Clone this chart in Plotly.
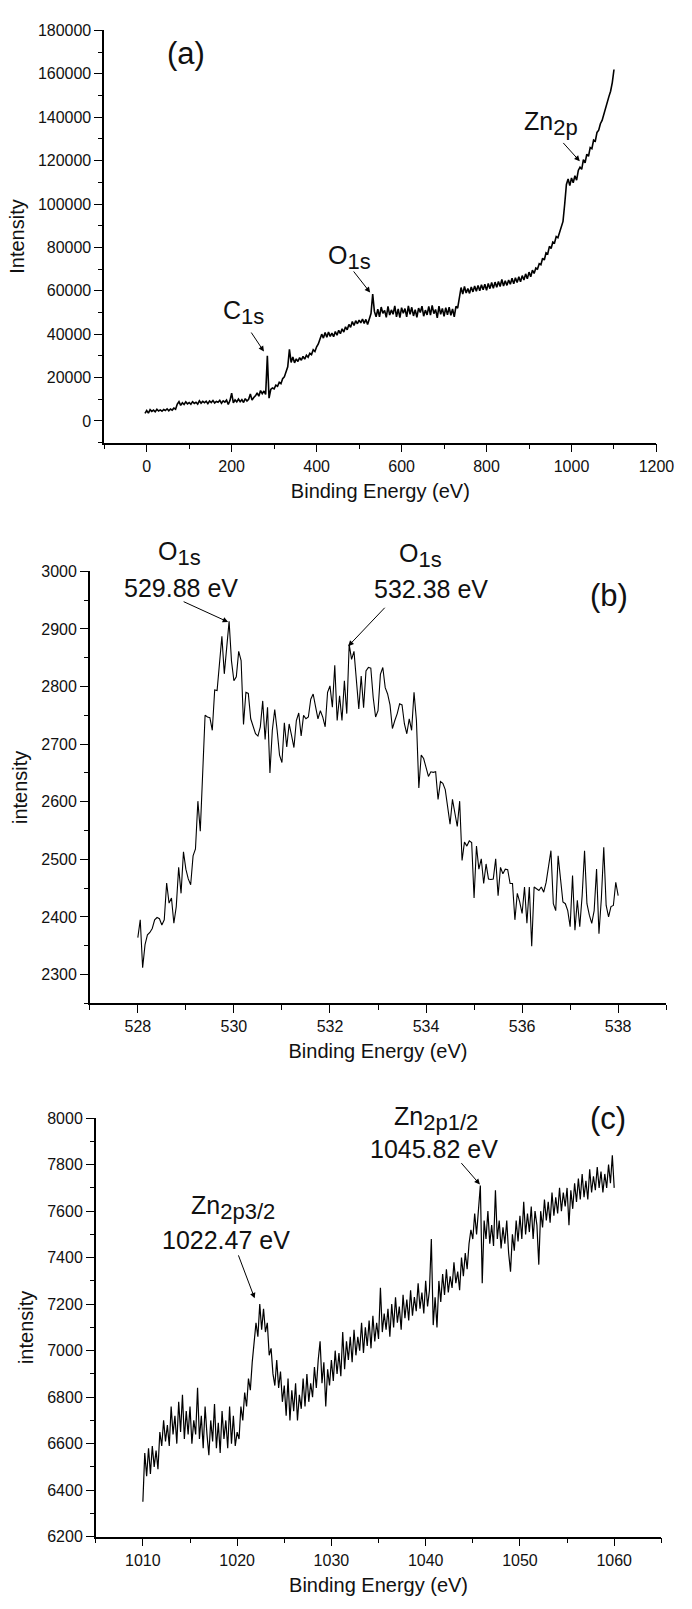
import numpy as np
import plotly.graph_objects as go

# ---------------- data ----------------
# (a) survey spectrum: binding energy grid start/step (eV) and intensity (x1000 counts)
A_E_START = -4.0
A_E_STEP = 4.0
A_KCOUNTS = [
    # -4 .. 68
    3.5, 4.8, 3.6, 5.2, 4.4, 5.0, 4.2, 5.4, 4.6, 5.1, 4.5, 5.3, 4.8, 5.6, 4.7, 5.5, 5.0, 5.9, 5.4,
    # 72 .. 248
    7.8, 8.9, 7.2, 8.4, 7.6, 8.8, 7.9, 8.5, 7.7, 8.9,
    8.1, 8.6, 7.8, 9.3, 8.2, 9.0, 8.4, 9.1, 8.0, 9.2,
    8.5, 9.4, 8.3, 9.0, 8.6, 9.5, 8.2, 9.3, 8.7, 9.6,
    7.6, 9.4, 12.8, 8.3, 9.7, 8.8, 10.1, 8.9, 9.8, 8.5,
    10.3, 9.2, 10.0, 12.4, 9.6,
    # 252 .. 280
    10.8, 11.6, 12.9, 11.4, 14.0, 12.6, 13.8, 12.2,
    # 284 .. 544
    30.0, 10.5, 14.5, 15.2, 14.8, 16.5, 16.0, 17.8, 17.2, 19.5,
    20.3, 22.5, 25.0, 33.0, 27.0, 29.5, 26.8, 28.6, 27.4, 29.2,
    28.0, 29.8, 28.5, 30.3, 29.4, 31.2, 30.6, 32.8, 32.0, 34.2,
    35.5, 37.8, 40.0, 38.2, 40.8, 38.6, 41.0, 39.0, 40.5, 38.8,
    41.2, 39.5, 41.8, 40.2, 42.5, 41.0, 43.4, 42.0, 44.5, 43.2,
    45.8, 44.0, 46.2, 44.8, 46.5, 45.2, 47.0, 45.0, 46.8, 44.5,
    47.5, 49.5, 58.5, 50.5, 48.0, 51.5,
    # 548 .. 728
    48.0, 52.5, 49.6, 51.0, 47.8, 52.8, 48.8, 51.2, 49.2, 53.0,
    48.0, 51.6, 47.6, 52.2, 49.7, 51.8, 48.0, 53.0, 49.2, 52.4,
    48.4, 51.3, 47.8, 52.0, 50.0, 52.9, 48.3, 51.1, 48.9, 52.8,
    48.8, 53.3, 49.5, 51.4, 47.5, 52.9, 49.2, 51.9, 48.2, 52.2,
    48.9, 52.4, 48.7, 51.6, 48.0, 52.8,
    # 732 .. 1100
    52.0, 56.0, 61.5, 58.5, 62.0, 59.0, 61.0, 58.8, 61.8, 59.5,
    62.2, 59.8, 62.5, 60.0, 62.8, 60.5, 63.0, 60.2, 63.4, 61.0,
    63.8, 61.2, 64.0, 61.6, 64.3, 62.0, 65.2, 62.2, 64.6, 62.5,
    65.0, 63.0, 65.8, 63.2, 66.0, 63.8, 66.5, 64.2, 67.0, 65.0,
    67.8, 65.5, 68.6, 66.5, 69.5, 68.0, 70.5, 70.0, 72.5, 72.0,
    75.0, 74.2, 77.5, 77.0, 80.5, 79.5, 82.5, 82.0, 85.0, 84.5,
    87.0, 88.5, 92.0, 100.0, 109.0, 111.5, 108.5, 112.0, 109.8, 113.0,
    111.0, 115.5, 117.0, 116.0, 120.5, 119.0, 123.0, 122.0, 126.0, 125.5,
    129.5, 129.0, 133.0, 134.0, 137.0, 138.5, 141.5, 144.0, 146.5, 149.5,
    152.0, 156.0, 162.0,
]

# (b) O 1s region
B_E_START = 528.0
B_E_STEP = 0.05
B_COUNTS = [
    2364, 2395, 2312, 2352, 2369, 2373, 2380, 2395, 2399, 2397, 2386, 2395, 2459, 2424, 2433, 2389, 2418, 2486, 2441, 2513,
    2483, 2466, 2456, 2506, 2518, 2601, 2549, 2638, 2750, 2747, 2746, 2724, 2794, 2793, 2834, 2887, 2822, 2867, 2913, 2844,
    2810, 2817, 2861, 2845, 2734, 2790, 2788, 2744, 2730, 2718, 2714, 2730, 2775, 2708, 2764, 2650, 2724, 2760, 2724, 2681,
    2668, 2737, 2695, 2735, 2715, 2694, 2741, 2754, 2714, 2750, 2744, 2747, 2778, 2787, 2765, 2744, 2758, 2747, 2730, 2790,
    2801, 2764, 2837, 2741, 2784, 2741, 2810, 2753, 2873, 2847, 2861, 2810, 2761, 2818, 2763, 2827, 2833, 2832, 2781, 2747,
    2758, 2821, 2833, 2798, 2787, 2768, 2727, 2741, 2753, 2770, 2768, 2735, 2718, 2744, 2724, 2790, 2741, 2624, 2681, 2675,
    2661, 2644, 2652, 2651, 2652, 2604, 2635, 2632, 2621, 2589, 2561, 2604, 2581, 2557, 2601, 2498, 2530, 2523, 2532, 2529,
    2433, 2523, 2483, 2501, 2458, 2492, 2466, 2465, 2466, 2501, 2437, 2486, 2475, 2483, 2482, 2458, 2458, 2395, 2441, 2426,
    2406, 2452, 2389, 2452, 2349, 2452, 2449, 2446, 2452, 2443, 2460, 2492, 2515, 2423, 2411, 2506, 2469, 2426, 2423, 2411,
    2383, 2472, 2377, 2429, 2383, 2437, 2515, 2423, 2403, 2389, 2411, 2483, 2371, 2432, 2521, 2420, 2400, 2418, 2420, 2460,
    2437,
]

# (c) Zn 2p region
C_E_START = 1010.0
C_E_STEP = 0.2
C_COUNTS = [
    6350, 6560, 6460, 6580, 6470,  6590, 6500, 6570, 6490, 6650,
    6590, 6700, 6610, 6680, 6590,  6760, 6640, 6720, 6600, 6780,
    6650, 6810, 6620, 6740, 6640,  6760, 6600, 6700, 6640, 6840,
    6620, 6720, 6580, 6760, 6640,  6550, 6700, 6610, 6770, 6580,
    6690, 6560, 6740, 6620, 6700,  6580, 6760, 6600, 6720, 6590,
    6650, 6620, 6760, 6700, 6820,  6760, 6880, 6830, 6950, 7050,
    7120, 7060, 7200, 7090, 7180,  7080, 7120, 6980, 7010, 6900,
    6850, 6960, 6840, 6910, 6780,  6850, 6720, 6880, 6700, 6830,
    6740, 6860, 6700, 6810, 6750,  6880, 6760, 6900, 6780, 6860,
    6800, 6930, 6840, 6960, 7040,  6860, 6950, 6760, 6920, 6850,
    6960, 6870, 7000, 6900, 6990,  6890, 7080, 6920, 7040, 6960,
    7060, 6950, 7090, 6980, 7060,  7000, 7120, 6990, 7100, 7020,
    7130, 7010, 7150, 7040, 7120,  7050, 7270, 7080, 7160, 7090,
    7180, 7060, 7200, 7100, 7230,  7120, 7190, 7090, 7240, 7140,
    7220, 7130, 7260, 7150, 7230,  7170, 7290, 7180, 7250, 7160,
    7300, 7190, 7260, 7480, 7110,  7230, 7100, 7300, 7210, 7330,
    7240, 7350, 7250, 7320, 7270,  7380, 7290, 7340, 7260, 7400,
    7320, 7420, 7350, 7460, 7520,  7480, 7590, 7500, 7620, 7710,
    7290, 7560, 7480, 7600, 7460,  7540, 7450, 7690, 7480, 7560,
    7440, 7530, 7460, 7560, 7420,  7340, 7500, 7430, 7560, 7470,
    7580, 7480, 7640, 7500, 7590,  7510, 7620, 7480, 7600, 7540,
    7370, 7600, 7530, 7650, 7560,  7640, 7550, 7680, 7580, 7660,
    7590, 7700, 7600, 7680, 7620,  7700, 7540, 7690, 7610, 7720,
    7640, 7740, 7650, 7760, 7660,  7730, 7650, 7780, 7680, 7750,
    7690, 7790, 7700, 7770, 7680,  7760, 7700, 7800, 7720, 7840,
    7700,
]

X_TITLE = "Binding Energy (eV)"
Y_TITLES = ["Intensity", "intensity", "intensity"]
PANEL_LABELS = ["(a)", "(b)", "(c)"]

# ---------------- figure ----------------
W, H = 692, 1609
FONT = "Arial, Liberation Sans, sans-serif"


def fx(px):
    return px / W


def fy(px):
    return 1 - px / H


xa = A_E_START + A_E_STEP * np.arange(len(A_KCOUNTS))
ya = np.array(A_KCOUNTS) * 1000.0
xb = B_E_START + B_E_STEP * np.arange(len(B_COUNTS))
xc = C_E_START + C_E_STEP * np.arange(len(C_COUNTS))

fig = go.Figure()
fig.add_trace(go.Scatter(x=xa, y=ya, mode="lines", line=dict(color="black", width=1.6),
                         xaxis="x", yaxis="y", hoverinfo="skip"))
fig.add_trace(go.Scatter(x=xb, y=B_COUNTS, mode="lines", line=dict(color="black", width=1.1),
                         xaxis="x2", yaxis="y2", hoverinfo="skip"))
fig.add_trace(go.Scatter(x=xc, y=C_COUNTS, mode="lines", line=dict(color="black", width=1.2),
                         xaxis="x3", yaxis="y3", hoverinfo="skip"))


def xax(domain, rng, tick0, dtick, mdtick, anchor):
    return dict(domain=domain, range=rng, anchor=anchor, showline=True, linecolor="black",
                linewidth=1.5, showgrid=False, zeroline=False, ticks="outside", ticklen=8,
                tickwidth=1.3, tickcolor="black", tick0=tick0, dtick=dtick,
                tickfont=dict(family=FONT, size=16, color="#111"),
                title=dict(text=X_TITLE, font=dict(family=FONT, size=20, color="#111"), standoff=10),
                minor=dict(dtick=mdtick, tick0=tick0, ticks="outside", ticklen=5, tickwidth=1.2,
                           tickcolor="black", showgrid=False),
                fixedrange=True)


def yax(domain, rng, tick0, dtick, mdtick, anchor, title):
    return dict(domain=domain, range=rng, anchor=anchor, showline=True, linecolor="black",
                linewidth=1.5, showgrid=False, zeroline=False, ticks="outside", ticklen=8,
                tickwidth=1.3, tickcolor="black", tick0=tick0, dtick=dtick, tickformat="d",
                tickfont=dict(family=FONT, size=16, color="#111"),
                title=dict(text=title, font=dict(family=FONT, size=20, color="#111"), standoff=8),
                minor=dict(dtick=mdtick, tick0=tick0, ticks="outside", ticklen=4, tickwidth=1.2,
                           tickcolor="black", showgrid=False),
                fixedrange=True)


fig.update_layout(
    width=W, height=H, autosize=False,
    margin=dict(l=0, r=0, t=0, b=0),
    paper_bgcolor="white", plot_bgcolor="white", showlegend=False,
    font=dict(family=FONT, color="#111"),
    xaxis=xax([fx(107), fx(674)], [-100, 1200], 0, 200, 100, "y"),
    yaxis=yax([fy(439.3), fy(22.7)], [-10000, 180000], 0, 20000, 10000, "x", Y_TITLES[0]),
    xaxis2=xax([fx(92.2), fx(684)], [527, 539], 528, 2, 1, "y2"),
    yaxis2=yax([fy(1006), fy(569.3)], [2250, 3000], 2300, 100, 50, "x2", Y_TITLES[1]),
    xaxis3=xax([fx(98.3), fx(679)], [1005, 1065], 1010, 10, 5, "y3"),
    yaxis3=yax([fy(1545), fy(1122)], [6200, 8000], 6200, 200, 100, "x3", Y_TITLES[2]),
)

ann = []


def sub(main, s):
    return main + "<sub><span style='font-size:22px'>" + s + "</span></sub>"


def text_at(px, py, text, size=25):
    ann.append(dict(x=fx(px), y=fy(py), xref="paper", yref="paper", text=text, showarrow=False,
                    xanchor="center", yanchor="middle", font=dict(family=FONT, size=size, color="#111")))


def arrow(xd, yd, ax, ay, xr, yr):
    # arrow-only annotation: a one-pixel non-breaking space as its label
    ann.append(dict(x=xd, y=yd, xref=xr, yref=yr, text="&nbsp;", font=dict(size=1),
                    showarrow=True, ax=ax, ay=ay,
                    arrowhead=2, arrowsize=1.1, arrowwidth=1, arrowcolor="black", standoff=0))


# panel labels
text_at(191, 46, PANEL_LABELS[0], 31)
text_at(625, 594, PANEL_LABELS[1], 31)
text_at(624, 1122, PANEL_LABELS[2], 31)

# (a)
text_at(250, 308, sub("C", "1s"))
arrow(276, 32000, -14, -21, "x", "y")
text_at(359, 252, sub("O", "1s"))
arrow(526, 59200, -18, -23, "x", "y")
text_at(566, 117, sub("Zn", "2p"))
arrow(1019.5, 119700, -18, -20, "x", "y")

# (b)
text_at(184, 551, sub("O", "1s"))
text_at(186, 586, "529.88 eV")
arrow(529.88, 2912, -46, -21, "x2", "y2")
text_at(432, 553, sub("O", "1s"))
text_at(442, 587, "532.38 eV")
arrow(532.38, 2870, 38, -40, "x2", "y2")

# (c)
text_at(239, 1212, sub("Zn", "2p3/2"))
text_at(232, 1245, "1022.47 eV")
arrow(1021.86, 7225, -17, -45, "x3", "y3")
text_at(448, 1122, sub("Zn", "2p1/2"))
text_at(446, 1153, "1045.82 eV")
arrow(1045.75, 7715, -20, -23, "x3", "y3")

fig.update_layout(annotations=ann)
fig.write_html("out.html")
